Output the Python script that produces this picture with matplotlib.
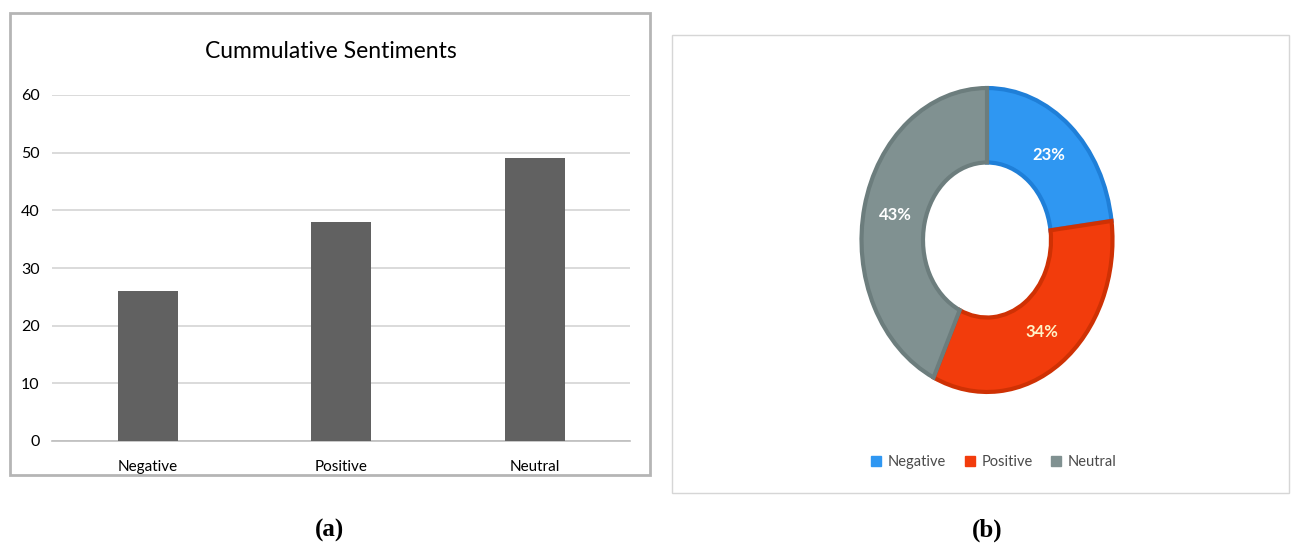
import numpy as np
import matplotlib.pyplot as plt
from matplotlib.patches import Rectangle
from matplotlib.lines import Line2D

W, H = 1291, 543

# data
categories = ["Negative", "Positive", "Neutral"]
counts = [26, 38, 49]
shares = [23, 34, 43]
y_ticks = [0, 10, 20, 30, 40, 50, 60]

pie_colors = ["#2f97f2", "#f23c0c", "#809191"]
edge_colors = ["#1f7fd8", "#cf3104", "#6c7d7d"]
label_colors = ["white", "#fff3c8", "white"]

FONT = ["Lato", "DejaVu Sans"]
plt.rcParams["font.family"] = FONT

fig = plt.figure(figsize=(W / 100, H / 100), dpi=100)


def fx(px):
    return px / W


def fy(py):
    return 1 - py / H


# ── (a) bar chart ──────────────────────────────
fig.patches.append(Rectangle((fx(10), fy(475)), fx(640), (475 - 13) / H,
                             transform=fig.transFigure, fill=False,
                             edgecolor="#b5b5b5", linewidth=2))

ax = fig.add_axes([fx(52), fy(441), fx(578), 346 / H])
x = range(len(categories))
ax.bar(x, counts, width=0.31, color="#616161", zorder=3)
ax.set_xlim(-0.495, 2.49)
ax.set_ylim(0, 60)
ax.set_yticks(y_ticks)
ax.set_yticklabels([str(t) for t in y_ticks], fontsize=11.5, color="black")
ax.set_xticks(list(x))
ax.set_xticklabels(categories, fontsize=11, color="black")
ax.tick_params(axis="y", length=0, pad=9)
ax.tick_params(axis="x", length=0, pad=14)
ax.grid(axis="y", color="#d4d4d4", linewidth=1.2, zorder=0)
for s in ["top", "right", "left"]:
    ax.spines[s].set_visible(False)
ax.spines["bottom"].set_color("#bdbdbd")
ax.spines["bottom"].set_linewidth(1.2)
ax.set_facecolor("none")
fig.text(fx(331), fy(52), "Cummulative Sentiments", ha="center", va="center",
         fontsize=16.5, color="black")

# ── (b) donut ──────────────────────────────────
fig.patches.append(Rectangle((fx(672), fy(493)), fx(617), (493 - 35) / H,
                             transform=fig.transFigure, fill=False,
                             edgecolor="#d6d6d6", linewidth=1))

ax2 = fig.add_axes([fx(987 - 128), fy(240 + 155), fx(256), 310 / H])
wedges, _ = ax2.pie(shares, colors=pie_colors, startangle=90, counterclock=False,
                    radius=1, wedgeprops=dict(width=0.49, linewidth=3))
for w, ec in zip(wedges, edge_colors):
    w.set_edgecolor(ec)
ax2.set_aspect("auto")
ax2.set_xlim(-1.02, 1.02)
ax2.set_ylim(-1.02, 1.02)

start = 90
for v, lc in zip(shares, label_colors):
    mid = np.deg2rad(start - v / 100 * 360 / 2)
    ax2.text(0.75 * np.cos(mid), 0.75 * np.sin(mid), f"{v}%", ha="center",
             va="center", fontsize=12, fontweight="bold", color=lc)
    start -= v / 100 * 360

handles = [Line2D([], [], marker="s", linestyle="none", markersize=7,
                  markerfacecolor=c, markeredgecolor=c) for c in pie_colors]
fig.legend(handles, categories, loc="center", bbox_to_anchor=(fx(989), fy(462)),
           ncol=3, frameon=False, fontsize=10.5, handletextpad=-0.2,
           columnspacing=0.6, labelcolor="#4a4a4a")

# captions
for cx, lab in [(330, "(a)"), (987, "(b)")]:
    fig.text(fx(cx), fy(530), lab, ha="center", va="center", fontsize=18,
             fontweight="bold", family="Liberation Serif")

fig.savefig("out.png", dpi=100)
